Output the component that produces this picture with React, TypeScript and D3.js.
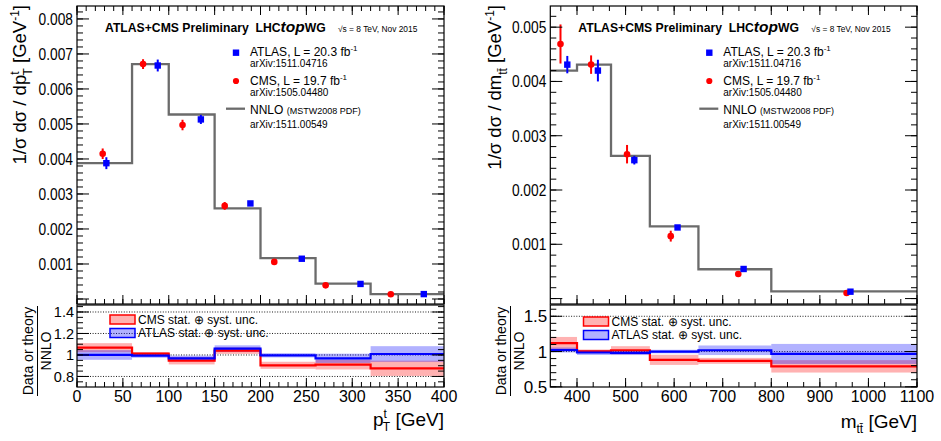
import React from "react";
import * as d3 from "d3";

const FONT = "'Liberation Sans', Arial, Helvetica, sans-serif";
const RED = "#ff0000";
const BLUE = "#0000ff";
const GRAY = "#6b6b6b";

// ---------- Left plot: top-quark pT ----------
const ptEdges = [0, 60, 100, 150, 200, 260, 320, 400];
const ptNnlo = [0.00388, 0.00671, 0.00527, 0.00259, 0.00117, 0.00044, 0.00014];
const ptCmsX = [28, 72, 115, 161, 215, 271, 342];
const ptCmsY = [0.00415, 0.00671, 0.00497, 0.00266, 0.00106, 0.00039, 0.000135];
const ptCmsErr = [0.00015, 0.00014, 0.00015, 0.00011, 0.00003, 0.00001, 0.000005];
const ptAtlasX = [32, 88, 135, 189, 245, 309, 378];
const ptAtlasY = [0.00388, 0.00667, 0.00513, 0.00273, 0.00115, 0.00043, 0.00014];
const ptAtlasErr = [0.00017, 0.00017, 0.00013, 0.00004, 0.00003, 0.00001, 0.000005];
const ptCmsRatio = [1.068, 1.012, 0.947, 1.04, 0.904, 0.91, 0.876];
const ptCmsRatioErr = [0.042, 0.015, 0.035, 0.03, 0.033, 0.045, 0.071];
const ptAtlasRatio = [1.0, 0.994, 0.969, 1.059, 0.997, 0.969, 1.009];
const ptAtlasRatioErr = [0.045, 0.02, 0.025, 0.031, 0.02, 0.043, 0.073];
const ptXTicks = [0, 50, 100, 150, 200, 250, 300, 350, 400];
const ptYTicks = [0.001, 0.002, 0.003, 0.004, 0.005, 0.006, 0.007, 0.008];
const ptYLabels = ["0.001", "0.002", "0.003", "0.004", "0.005", "0.006", "0.007", "0.008"];
const ptRatioTicks = [0.8, 1, 1.2, 1.4];
const ptRatioLabels = ["0.8", "1", "1.2", "1.4"];

// ---------- Right plot: m_ttbar ----------
const mEdges = [345, 400, 470, 550, 650, 800, 1100];
const mNnlo = [0.0042, 0.00431, 0.00263, 0.00133, 0.00054, 0.000134];
const mCmsX = [366, 429, 503, 593, 732, 955];
const mCmsY = [0.00469, 0.00431, 0.00266, 0.00115, 0.000453, 0.000103];
const mCmsErr = [0.00036, 0.00017, 0.00017, 0.0001, 0.00002, 0.00001];
const mAtlasX = [380, 443, 518, 607, 743, 963];
const mAtlasY = [0.00431, 0.0042, 0.00255, 0.00131, 0.000545, 0.000127];
const mAtlasErr = [0.00016, 0.0002, 0.00008, 0.00003, 0.00002, 0.00001];
const mCmsRatio = [1.12, 1.004, 1.018, 0.882, 0.868, 0.79];
const mCmsRatioErr = [0.087, 0.025, 0.058, 0.072, 0.042, 0.088];
const mAtlasRatio = [1.022, 0.986, 0.98, 1.0, 1.018, 0.966];
const mAtlasRatioErr = [0.035, 0.035, 0.03, 0.025, 0.068, 0.142];
const mXTicks = [400, 500, 600, 700, 800, 900, 1000, 1100];
const mYTicks = [0.001, 0.002, 0.003, 0.004, 0.005];
const mYLabels = ["0.001", "0.002", "0.003", "0.004", "0.005"];
const mRatioTicks = [0.5, 1, 1.5];
const mRatioLabels = ["0.5", "1", "1.5"];

type Cfg = {
  x0: number;
  x1: number;
  xDomain: [number, number];
  xTicks: number[];
  xMinorStep: number;
  yDomain: [number, number];
  yMajorStep: number;
  yMinorStep: number;
  yTicks: number[];
  yLabels: string[];
  rDomain: [number, number];
  rTicks: number[];
  rLabels: string[];
  rMinorStep: number;
  rLabelSize: number;
  rDotted: number[];
  edges: number[];
  nnlo: number[];
  cmsX: number[];
  cmsY: number[];
  cmsErr: number[];
  atlasX: number[];
  atlasY: number[];
  atlasErr: number[];
  cmsR: number[];
  cmsRE: number[];
  atlasR: number[];
  atlasRE: number[];
  yTitle: React.ReactNode;
  xTitle: React.ReactNode;
  ratioLegendX: number;
  ratioLegendY: number;
  ratioTitleX: number;
};

const TOP0 = 6;
const TOP1 = 304;
const R0 = 305;
const R1 = 387;

function ticksBetween(lo: number, hi: number, step: number, anchor: number) {
  const out: number[] = [];
  const start = anchor + Math.ceil((lo - anchor) / step - 1e-9) * step;
  for (let v = start; v <= hi + 1e-12; v += step) out.push(v);
  return out;
}

function Panel({ c }: { c: Cfg }) {
  const x = d3.scaleLinear().domain(c.xDomain).range([c.x0, c.x1]);
  const y = d3.scaleLinear().domain(c.yDomain).range([TOP1, TOP0]);
  const r = d3.scaleLinear().domain(c.rDomain).range([R1, R0]);

  const stepPts = (vals: number[]) => {
    const pts: [number, number][] = vals.map((v, i) => [c.edges[i], v]);
    pts.push([c.edges[c.edges.length - 1], vals[vals.length - 1]]);
    return pts;
  };
  const lineTop = d3
    .line<[number, number]>()
    .x((d) => x(d[0]))
    .y((d) => y(d[1]))
    .curve(d3.curveStepAfter);
  const lineR = d3
    .line<[number, number]>()
    .x((d) => x(d[0]))
    .y((d) => r(d[1]))
    .curve(d3.curveStepAfter);

  const xMinor = ticksBetween(c.xDomain[0], c.xDomain[1], c.xMinorStep, c.xTicks[0]);
  const yMinor = ticksBetween(c.yDomain[0], c.yDomain[1], c.yMinorStep, 0);
  const yMajor = ticksBetween(c.yDomain[0], c.yDomain[1], c.yMajorStep, 0);
  const rMinor = ticksBetween(c.rDomain[0], c.rDomain[1], c.rMinorStep, 1);

  const tk = { stroke: "#000", strokeWidth: 1 };

  return (
    <g fontFamily={FONT}>
      {/* ---------------- top panel ---------------- */}
      <g>
        <path d={lineTop(stepPts(c.nnlo)) || ""} fill="none" stroke={GRAY} strokeWidth={2.3} />
        {c.cmsX.map((xv, i) => (
          <g key={"c" + i}>
            <line x1={x(xv)} x2={x(xv)} y1={y(c.cmsY[i] - c.cmsErr[i])} y2={y(c.cmsY[i] + c.cmsErr[i])} stroke={RED} strokeWidth={2} />
            <circle cx={x(xv)} cy={y(c.cmsY[i])} r={3.3} fill={RED} />
          </g>
        ))}
        {c.atlasX.map((xv, i) => (
          <g key={"a" + i}>
            <line x1={x(xv)} x2={x(xv)} y1={y(c.atlasY[i] - c.atlasErr[i])} y2={y(c.atlasY[i] + c.atlasErr[i])} stroke={BLUE} strokeWidth={2} />
            <rect x={x(xv) - 3.2} y={y(c.atlasY[i]) - 3.2} width={6.4} height={6.4} fill={BLUE} />
          </g>
        ))}
        {xMinor.map((t, i) => (
          <g key={"xm" + i}>
            <line x1={x(t)} x2={x(t)} y1={TOP1} y2={TOP1 - 5} {...tk} />
            <line x1={x(t)} x2={x(t)} y1={TOP0} y2={TOP0 + 5} {...tk} />
          </g>
        ))}
        {c.xTicks.map((t, i) => (
          <g key={"xM" + i}>
            <line x1={x(t)} x2={x(t)} y1={TOP1} y2={TOP1 - 9} {...tk} />
            <line x1={x(t)} x2={x(t)} y1={TOP0} y2={TOP0 + 9} {...tk} />
          </g>
        ))}
        {yMinor.map((t, i) => (
          <g key={"ym" + i}>
            <line x1={c.x0} x2={c.x0 + 6} y1={y(t)} y2={y(t)} {...tk} />
            <line x1={c.x1} x2={c.x1 - 6} y1={y(t)} y2={y(t)} {...tk} />
          </g>
        ))}
        {yMajor.map((t, i) => (
          <g key={"yM" + i}>
            <line x1={c.x0} x2={c.x0 + 12} y1={y(t)} y2={y(t)} {...tk} />
            <line x1={c.x1} x2={c.x1 - 12} y1={y(t)} y2={y(t)} {...tk} />
          </g>
        ))}
        {c.yTicks.map((t, i) => (
          <text
            key={"yl" + i}
            transform={`translate(${c.x0 - 4},${y(t) + 5.8}) scale(0.86,1)`}
            textAnchor="end"
            fontSize={16}
          >
            {c.yLabels[i]}
          </text>
        ))}
        <rect x={c.x0} y={TOP0} width={c.x1 - c.x0} height={TOP1 - TOP0} fill="none" stroke="#000" strokeWidth={1.2} />
      </g>

      {/* ---------------- ratio panel ---------------- */}
      <g>
        {c.rDotted.map((v, i) => (
          <line key={"d" + i} x1={c.x0} x2={c.x1} y1={r(v)} y2={r(v)} stroke="#000" strokeWidth={0.9} strokeDasharray="1,1.6" />
        ))}
        {c.cmsR.map((v, i) => (
          <rect
            key={"cb" + i}
            x={x(c.edges[i])}
            width={x(c.edges[i + 1]) - x(c.edges[i])}
            y={r(v + c.cmsRE[i])}
            height={r(v - c.cmsRE[i]) - r(v + c.cmsRE[i])}
            fill={RED}
            fillOpacity={0.3}
          />
        ))}
        {c.atlasR.map((v, i) => (
          <rect
            key={"ab" + i}
            x={x(c.edges[i])}
            width={x(c.edges[i + 1]) - x(c.edges[i])}
            y={r(v + c.atlasRE[i])}
            height={r(v - c.atlasRE[i]) - r(v + c.atlasRE[i])}
            fill={BLUE}
            fillOpacity={0.3}
          />
        ))}
        <path d={lineR(stepPts(c.cmsR)) || ""} fill="none" stroke={RED} strokeWidth={2.2} />
        <path d={lineR(stepPts(c.atlasR)) || ""} fill="none" stroke={BLUE} strokeWidth={2.2} />

        <rect x={c.ratioLegendX} y={c.ratioLegendY} width={25} height={9} fill={RED} fillOpacity={0.3} stroke={RED} strokeWidth={1.5} />
        <text x={c.ratioLegendX + 28} y={c.ratioLegendY + 8.5} fontSize={12}>
          CMS stat. ⊕ syst. unc.
        </text>
        <rect x={c.ratioLegendX} y={c.ratioLegendY + 13.5} width={25} height={9} fill={BLUE} fillOpacity={0.3} stroke={BLUE} strokeWidth={1.5} />
        <text x={c.ratioLegendX + 28} y={c.ratioLegendY + 22} fontSize={12}>
          ATLAS stat. ⊕ syst. unc.
        </text>

        {xMinor.map((t, i) => (
          <line key={"rxm" + i} x1={x(t)} x2={x(t)} y1={R1} y2={R1 - 5} {...tk} />
        ))}
        {c.xTicks.map((t, i) => (
          <line key={"rxM" + i} x1={x(t)} x2={x(t)} y1={R1} y2={R1 - 9} {...tk} />
        ))}
        {rMinor.map((t, i) => (
          <g key={"rym" + i}>
            <line x1={c.x0} x2={c.x0 + 6} y1={r(t)} y2={r(t)} {...tk} />
            <line x1={c.x1} x2={c.x1 - 6} y1={r(t)} y2={r(t)} {...tk} />
          </g>
        ))}
        {c.rTicks.map((t, i) => (
          <g key={"ryM" + i}>
            <line x1={c.x0} x2={c.x0 + 12} y1={r(t)} y2={r(t)} {...tk} />
            <line x1={c.x1} x2={c.x1 - 12} y1={r(t)} y2={r(t)} {...tk} />
            <text x={c.x0 - 3} y={r(t) + c.rLabelSize * 0.36} textAnchor="end" fontSize={c.rLabelSize}>
              {c.rLabels[i]}
            </text>
          </g>
        ))}
        {c.xTicks.map((t, i) => (
          <text key={"xl" + i} x={x(t)} y={402} textAnchor="middle" fontSize={16}>
            {String(t)}
          </text>
        ))}
        <rect x={c.x0} y={R0} width={c.x1 - c.x0} height={R1 - R0} fill="none" stroke="#000" strokeWidth={1.2} />
      </g>

      <g transform={`translate(${c.ratioTitleX},351) rotate(-90)`} fontSize={14}>
        <text x={0} y={0} textAnchor="middle">Data or theory</text>
        <line x1={-45} x2={45} y1={4.5} y2={4.5} stroke="#000" strokeWidth={1} />
        <text x={0} y={18} textAnchor="middle">NNLO</text>
      </g>

      {c.yTitle}
      {c.xTitle}

      {/* header */}
      <text x={c.x0 + 28} y={32} fontSize={12.2} fontWeight="bold">
        ATLAS+CMS Preliminary{"\u00a0\u00a0"}LHC
        <tspan fontStyle="italic" fontSize={15.5}>top</tspan>
        <tspan>WG</tspan>
      </text>
      <text x={c.x0 + 261} y={31.5} fontSize={8.4}>
        √s = 8 TeV, Nov 2015
      </text>

      {/* legend */}
      <rect x={c.x0 + 155.8} y={49.5} width={6.4} height={6.4} fill={BLUE} />
      <text x={c.x0 + 173} y={55.8} fontSize={12}>
        ATLAS, L = 20.3 fb<tspan fontSize={8} dy={-5}>-1</tspan>
      </text>
      <text x={c.x0 + 173} y={67.4} fontSize={10}>arXiv:1511.04716</text>
      <circle cx={c.x0 + 159} cy={81} r={3.1} fill={RED} />
      <text x={c.x0 + 173} y={84.8} fontSize={12}>
        CMS, L = 19.7 fb<tspan fontSize={8} dy={-5}>-1</tspan>
      </text>
      <text x={c.x0 + 173} y={96.2} fontSize={10}>arXiv:1505.04480</text>
      <line x1={c.x0 + 149} x2={c.x0 + 168} y1={108.7} y2={108.7} stroke={GRAY} strokeWidth={2.3} />
      <text x={c.x0 + 173} y={113.5} fontSize={12}>
        NNLO <tspan fontSize={9}>(MSTW2008 PDF)</tspan>
      </text>
      <text x={c.x0 + 173} y={127.5} fontSize={10}>arXiv:1511.00549</text>
    </g>
  );
}

const leftCfg: Cfg = {
  x0: 77,
  x1: 444,
  xDomain: [0, 400],
  xTicks: ptXTicks,
  xMinorStep: 10,
  yDomain: [-0.000143, 0.00837],
  yMajorStep: 0.001,
  yMinorStep: 0.0002,
  yTicks: ptYTicks,
  yLabels: ptYLabels,
  rDomain: [0.702, 1.465],
  rTicks: ptRatioTicks,
  rLabels: ptRatioLabels,
  rMinorStep: 0.05,
  rLabelSize: 14.5,
  rDotted: [0.8, 1, 1.2, 1.4],
  edges: ptEdges,
  nnlo: ptNnlo,
  cmsX: ptCmsX,
  cmsY: ptCmsY,
  cmsErr: ptCmsErr,
  atlasX: ptAtlasX,
  atlasY: ptAtlasY,
  atlasErr: ptAtlasErr,
  cmsR: ptCmsRatio,
  cmsRE: ptCmsRatioErr,
  atlasR: ptAtlasRatio,
  atlasRE: ptAtlasRatioErr,
  ratioLegendX: 110,
  ratioLegendY: 315,
  ratioTitleX: 33,
  yTitle: (
    <text transform="translate(26,5) rotate(-90)" textAnchor="end" fontSize={18.5} fontFamily={FONT}>
      1/σ dσ / dp
      <tspan fontSize={12} dy={-7}>t</tspan>
      <tspan fontSize={12} dx={-4} dy={13}>T</tspan>
      <tspan dy={-6}> [GeV</tspan>
      <tspan fontSize={12} dy={-7}>-1</tspan>
      <tspan dy={7}>]</tspan>
    </text>
  ),
  xTitle: (
    <text x={444} y={426} textAnchor="end" fontSize={19} fontFamily={FONT}>
      p
      <tspan fontSize={12} dy={-8}>t</tspan>
      <tspan fontSize={12} dx={-4} dy={13}>T</tspan>
      <tspan dy={-5}> [GeV]</tspan>
    </text>
  ),
};

const rightCfg: Cfg = {
  x0: 550.3,
  x1: 917,
  xDomain: [345, 1100],
  xTicks: mXTicks,
  xMinorStep: 100 / 3,
  yDomain: [-0.0001, 0.00539],
  yMajorStep: 0.001,
  yMinorStep: 0.0002,
  yTicks: mYTicks,
  yLabels: mYLabels,
  rDomain: [0.497, 1.66],
  rTicks: mRatioTicks,
  rLabels: mRatioLabels,
  rMinorStep: 0.1,
  rLabelSize: 17,
  rDotted: [1, 1.5],
  edges: mEdges,
  nnlo: mNnlo,
  cmsX: mCmsX,
  cmsY: mCmsY,
  cmsErr: mCmsErr,
  atlasX: mAtlasX,
  atlasY: mAtlasY,
  atlasErr: mAtlasErr,
  cmsR: mCmsRatio,
  cmsRE: mCmsRatioErr,
  atlasR: mAtlasRatio,
  atlasRE: mAtlasRatioErr,
  ratioLegendX: 583.5,
  ratioLegendY: 317,
  ratioTitleX: 506,
  yTitle: (
    <text transform="translate(501,5) rotate(-90)" textAnchor="end" fontSize={18.5} fontFamily={FONT}>
      1/σ dσ / dm
      <tspan fontSize={12} dy={6}>t{"t\u0304"}</tspan>
      <tspan dy={-6}> [GeV</tspan>
      <tspan fontSize={12} dy={-7}>-1</tspan>
      <tspan dy={7}>]</tspan>
    </text>
  ),
  xTitle: (
    <text x={917} y={428} textAnchor="end" fontSize={19} fontFamily={FONT}>
      m
      <tspan fontSize={12} dy={5}>t{"t\u0304"}</tspan>
      <tspan dy={-5}> [GeV]</tspan>
    </text>
  ),
};

export default function App() {
  return (
    <svg
      width={941}
      height={441}
      viewBox="0 0 941 441"
      style={{ position: "absolute", left: 0, top: 0, background: "#fff" }}
    >
      <rect x={0} y={0} width={941} height={441} fill="#fff" />
      <Panel c={leftCfg} />
      <Panel c={rightCfg} />
    </svg>
  );
}
